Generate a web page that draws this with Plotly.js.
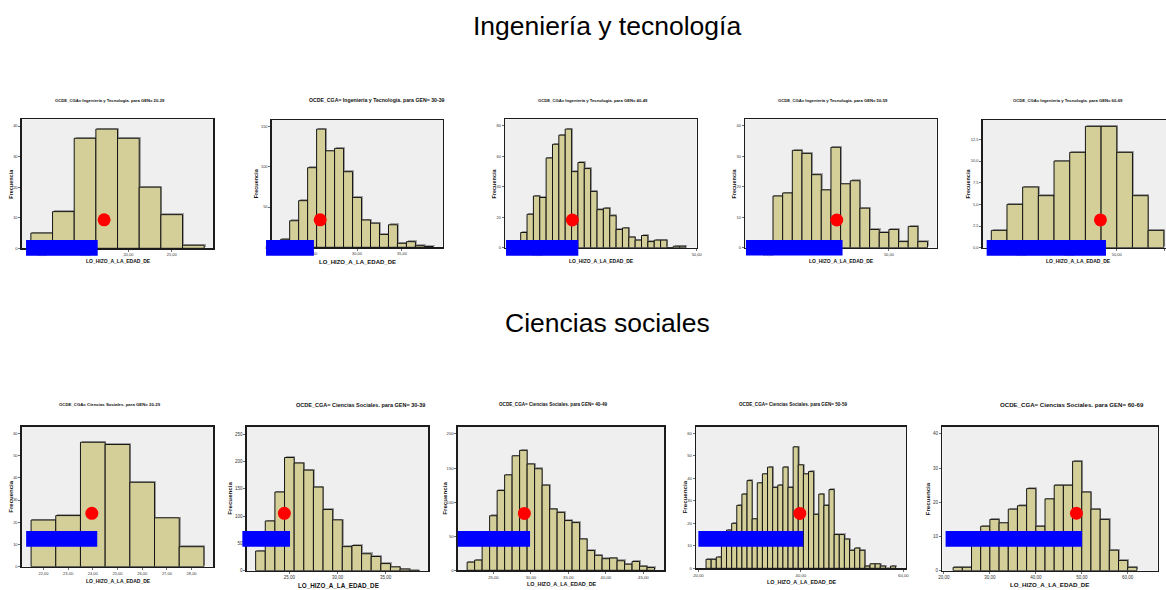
<!DOCTYPE html>
<html>
<head>
<meta charset="utf-8">
<script src="https://cdn.plot.ly/plotly-3.0.1.min.js"></script>
<style>
  html, body { margin: 0; padding: 0; background: #ffffff; overflow: hidden; }
  #chart { width: 1166px; height: 590px; }
</style>
</head>
<body>
<div id="chart"></div>
<script>
// Generation groups shown in each row
const GROUPS = ['20-29', '30-39', '40-49', '50-59', '60-69'];

// Ingeniería y Tecnología: frequency per bin, first bin centre, bin width
const ingFreq2029 = [5, 12, 36, 39, 36, 20, 11, 1];
const ingFreq3039 = [10, 33, 58, 99, 147, 120, 123, 94, 62, 34, 30, 16, 28, 5, 7, 2, 1];
const ingFreq4049 = [10, 22, 34, 33, 59, 68, 74, 78, 50, 56, 52, 37, 25, 26, 21, 12, 13, 7, 5, 8, 4, 5, 5, 0, 1, 1];
const ingFreq5059 = [17, 18, 32, 31, 24, 19, 33, 21, 22, 13, 6, 5, 6, 2, 7, 2];
const ingFreq6069 = [2, 5, 7, 6, 10, 11, 14, 14, 11, 6, 2];
const ingBinStart = [10, 22, 22.83, 27, 25.35];
const ingBinWidth = [2.5, 1, 1, 2, 3.29];

// Ciencias Sociales: frequency per bin, first bin centre, bin width
const socFreq2029 = [21, 23, 56, 55, 38, 22, 9];
const socFreq3039 = [36, 91, 144, 207, 197, 184, 153, 112, 93, 44, 46, 31, 26, 13, 7, 3, 1];
const socFreq4049 = [12, 15, 52, 80, 117, 140, 168, 176, 156, 149, 125, 90, 85, 73, 70, 46, 29, 22, 17, 18, 14, 9, 13, 6, 4];
const socFreq5059 = [4, 4, 5, 12, 17, 20, 28, 33, 39, 22, 38, 42, 45, 36, 37, 45, 36, 54, 46, 42, 43, 24, 33, 28, 35, 15, 15, 13, 8, 9, 8, 1, 2, 2, 1, 0, 1];
const socFreq6069 = [1, 1, 10, 13, 15, 14, 18, 19, 24, 13, 21, 25, 25, 32, 23, 18, 15, 6, 3, 1];
const socBinStart = [22, 22, 22, 22, 23];
const socBinWidth = [1, 1, 1, 1, 2];

// Highlight markers (red dot) in data units of each histogram
const ingDotX = [17.2, 25.9, 30.45, 39.2, 46.6];
const ingDotY = [9.3, 34.2, 18.2, 9.1, 3.2];
const socDotX = [23.96, 24.48, 29.13, 39.8, 48.84];
const socDotY = [24, 104.9, 83.4, 24.4, 16.8];

// Highlight bands (blue bar) in data units of each histogram
const ingBandX0 = [8.19, 19.87, 20.02, 20.4, 22.73];
const ingBandX1 = [16.46, 25.2, 31.39, 40.4, 47.76];
const ingBandY0 = [-2.4, -10.4, -5.26, -2.6, -0.92];
const ingBandY1 = [2.72, 9.2, 5.04, 2.5, 0.88];
const socBandX0 = [21.3, 20.12, 20.24, 20.0, 20.36];
const socBandX1 = [24.18, 25.07, 29.89, 40.46, 50.07];
const socBandY0 = [9.0, 43.9, 34.6, 9.6, 7.0];
const socBandY1 = [16.05, 72.6, 57.6, 16.6, 11.6];

const ROW_TITLES = ['Ingeniería y tecnología', 'Ciencias sociales'];
const FIELD_LABELS = ['Ingeniería y Tecnología', 'Ciencias Sociales'];
const X_TITLE = 'LO_HIZO_A_LA_EDAD_DE';
const Y_TITLE = 'Frecuencia';

const W = 1166, H = 590;
const fx = v => v / W;
const fy = v => 1 - v / H;

// Panel geometry (pixels) and axis setup
const panels = [
  { row: 0, g: 0, freq: ingFreq2029, box: [21.7, 213.3, 119.3, 248.3], xr: [7.69, 29.8], yr: [0, 42.2], xd: 5, yd: 10, yf: 'd',
    tc: 110, tSize: 4.2, ax: 118, ay: 261, aSize: 5, yx: 11, ySize: 5.5, tick: 4 },
  { row: 0, g: 1, freq: ingFreq3039, box: [271.7, 443, 120, 247.3], xr: [20.5, 39.57], yr: [0, 158.3], xd: 5, yd: 50, yf: 'd',
    tc: 377, tSize: 5.2, ax: 357.7, ay: 261.7, aSize: 6, yx: 255.7, ySize: 5.5, tick: 4 },
  { row: 0, g: 2, freq: ingFreq4049, box: [505, 696.7, 119.3, 247.7], xr: [19.86, 50.01], yr: [0, 84.4], xd: 25, yd: 20, yf: 'd',
    tc: 593, tSize: 4.2, ax: 601, ay: 261, aSize: 5, yx: 494, ySize: 5.5, tick: 4 },
  { row: 0, g: 3, freq: ingFreq5059, box: [745, 936.7, 119.3, 247.7], xr: [20.2, 59.9], yr: [0, 42.2], xd: 25, yd: 10, yf: 'd',
    tc: 833, tSize: 4.2, ax: 841.7, ay: 261, aSize: 5, yx: 734, ySize: 5.5, tick: 4 },
  { row: 0, g: 4, freq: ingFreq6069, box: [982.7, 1166, 120, 247.7], xr: [21.9, 60.35], yr: [0, 14.73], xd: 10, yd: 2.5, yf: '.1f',
    tc: 1068, tSize: 4.2, ax: 1078, ay: 261, aSize: 5, yx: 967.7, ySize: 5.5, tick: 4 },
  { row: 1, g: 0, freq: socFreq2029, box: [21.7, 213.3, 426.7, 566.7], xr: [21.12, 28.88], yr: [0, 63], xd: 1, yd: 10, yf: 'd',
    tc: 110, tSize: 4.3, ax: 118, ay: 580.7, aSize: 5, yx: 11, ySize: 6, tick: 4 },
  { row: 1, g: 1, freq: socFreq3039, box: [246.7, 428.3, 426.7, 570.7], xr: [20.57, 39.43], yr: [0, 263.4], xd: 5, yd: 50, yf: 'd',
    tc: 360, tSize: 5.5, ax: 338, ay: 585, aSize: 6.3, yx: 230, ySize: 6.2, tick: 4.5 },
  { row: 1, g: 2, freq: socFreq4049, box: [457.7, 664.3, 426.7, 570.3], xr: [20.24, 47.8], yr: [0, 210.7], xd: 5, yd: 50, yf: 'd',
    tc: 553, tSize: 4.6, ax: 561.7, ay: 584.3, aSize: 5.4, yx: 444.3, ySize: 6.2, tick: 4.2 },
  { row: 1, g: 3, freq: socFreq5059, box: [696, 906, 426.7, 568.3], xr: [19.54, 60.52], yr: [0, 62.96], xd: 20, yd: 10, yf: 'd',
    tc: 793, tSize: 4.6, ax: 801.7, ay: 581.7, aSize: 5.4, yx: 684, ySize: 6.2, tick: 4.2 },
  { row: 1, g: 4, freq: socFreq6069, box: [942.3, 1157.7, 426.7, 570.7], xr: [19.64, 66.53], yr: [0, 42.1], xd: 10, yd: 10, yf: 'd',
    tc: 1072, tSize: 6.1, ax: 1049, ay: 584.3, aSize: 6.2, yx: 927.7, ySize: 6.2, tick: 4.5 }
];

const BAR_FILL = '#d4cf99';
const BAR_SHADOW = '#a3a3a3';
const FRAME = '#1c1c1c';
const FONT = 'Liberation Sans, Arial, sans-serif';

const traces = [];
const shapes = [];
const annotations = [];
const layout = {
  width: W, height: H,
  margin: { l: 0, r: 0, t: 0, b: 0 },
  paper_bgcolor: '#ffffff',
  showlegend: false,
  separators: ', ',
  font: { family: FONT, color: '#000000' },
  barmode: 'overlay',
  bargap: 0
};

panels.forEach((p, i) => {
  const n = i + 1;
  const xName = n === 1 ? 'x' : 'x' + n;
  const yName = n === 1 ? 'y' : 'y' + n;
  const xKey = n === 1 ? 'xaxis' : 'xaxis' + n;
  const yKey = n === 1 ? 'yaxis' : 'yaxis' + n;
  const start = p.row === 0 ? ingBinStart[p.g] : socBinStart[p.g];
  const width = p.row === 0 ? ingBinWidth[p.g] : socBinWidth[p.g];

  layout[xKey] = {
    domain: [fx(p.box[0]), fx(p.box[1])], anchor: yName,
    range: p.xr, dtick: p.xd, tick0: 0, tickformat: '.2f',
    ticks: 'outside', ticklen: 2, tickwidth: 0.7, tickcolor: '#333',
    tickfont: { size: p.tick, color: '#333', family: FONT },
    showgrid: false, zeroline: false,
    showline: true, mirror: true, linecolor: FRAME, linewidth: 1.3,
    fixedrange: true
  };
  layout[yKey] = {
    domain: [fy(p.box[3]), fy(p.box[2])], anchor: xName,
    range: p.yr, dtick: p.yd, tick0: 0, tickformat: p.yf,
    ticks: 'outside', ticklen: 2, tickwidth: 0.7, tickcolor: '#333',
    tickfont: { size: p.tick, color: '#333', family: FONT },
    showgrid: false, zeroline: false,
    showline: true, mirror: true, linecolor: FRAME, linewidth: 1.3,
    fixedrange: true
  };

  // plot-area background
  shapes.push({
    type: 'rect', xref: xName + ' domain', yref: yName + ' domain',
    x0: 0, x1: 1, y0: 0, y1: 1, layer: 'below',
    fillcolor: '#efefef', line: { width: 0 }
  });

  // one-pixel drop shadow behind the bars (up and to the right)
  const pxX = (p.xr[1] - p.xr[0]) / (p.box[1] - p.box[0]);
  const pxY = (p.yr[1] - p.yr[0]) / (p.box[3] - p.box[2]);
  traces.push({
    type: 'bar', xaxis: xName, yaxis: yName,
    x0: start, dx: width, width: width, offset: -width / 2 + 1.3 * pxX, base: 1.3 * pxY,
    y: p.freq,
    marker: { color: BAR_SHADOW, line: { width: 0 } },
    hoverinfo: 'skip'
  });
  traces.push({
    type: 'bar', xaxis: xName, yaxis: yName,
    x0: start, dx: width, width: width, y: p.freq,
    marker: { color: BAR_FILL, line: { color: '#141414', width: 1 } },
    hoverinfo: 'skip'
  });

  const dotX = p.row === 0 ? ingDotX[p.g] : socDotX[p.g];
  const dotY = p.row === 0 ? ingDotY[p.g] : socDotY[p.g];
  traces.push({
    type: 'scatter', mode: 'markers', xaxis: xName, yaxis: yName,
    x: [dotX], y: [dotY], cliponaxis: false,
    marker: { color: '#ff0000', size: 13, line: { width: 0 } },
    hoverinfo: 'skip'
  });

  // blue band, positioned through the axis ranges so it may run past the frame
  const bx0 = p.row === 0 ? ingBandX0[p.g] : socBandX0[p.g];
  const bx1 = p.row === 0 ? ingBandX1[p.g] : socBandX1[p.g];
  const by0 = p.row === 0 ? ingBandY0[p.g] : socBandY0[p.g];
  const by1 = p.row === 0 ? ingBandY1[p.g] : socBandY1[p.g];
  const toFx = v => (v - p.xr[0]) / (p.xr[1] - p.xr[0]);
  const toFy = v => (v - p.yr[0]) / (p.yr[1] - p.yr[0]);
  shapes.push({
    type: 'rect', xref: xName + ' domain', yref: yName + ' domain',
    x0: toFx(bx0), x1: toFx(bx1), y0: toFy(by0), y1: toFy(by1),
    layer: 'above', fillcolor: '#0000ff', line: { width: 0 }
  });

  // panel heading
  annotations.push({
    xref: 'paper', yref: 'paper', x: fx(p.tc), y: fy(p.row === 0 ? 100 : 405),
    xanchor: 'center', yanchor: 'middle', showarrow: false,
    text: '<b>OCDE_CGA= ' + FIELD_LABELS[p.row] + '. para GEN= ' + GROUPS[p.g] + '</b>',
    font: { size: p.tSize, family: FONT, color: '#111' }
  });
  // x-axis title
  annotations.push({
    xref: 'paper', yref: 'paper', x: fx(p.ax), y: fy(p.ay),
    xanchor: 'center', yanchor: 'middle', showarrow: false,
    text: '<b>' + X_TITLE + '</b>',
    font: { size: p.aSize, family: FONT, color: '#111' }
  });
  // y-axis title
  annotations.push({
    xref: 'paper', yref: 'paper', x: fx(p.yx), y: fy((p.box[2] + p.box[3]) / 2),
    xanchor: 'center', yanchor: 'middle', showarrow: false, textangle: -90,
    text: '<b>' + Y_TITLE + '</b>',
    font: { size: p.ySize, family: FONT, color: '#111' }
  });
});

// row headings
annotations.push({
  xref: 'paper', yref: 'paper', x: fx(607), y: fy(26), xanchor: 'center', yanchor: 'middle',
  showarrow: false, text: ROW_TITLES[0], font: { size: 26.5, family: FONT, color: '#000' }
});
annotations.push({
  xref: 'paper', yref: 'paper', x: fx(607), y: fy(323), xanchor: 'center', yanchor: 'middle',
  showarrow: false, text: ROW_TITLES[1], font: { size: 26.5, family: FONT, color: '#000' }
});

layout.shapes = shapes;
layout.annotations = annotations;

Plotly.newPlot('chart', traces, layout, { staticPlot: true, displayModeBar: false });
</script>
</body>
</html>
